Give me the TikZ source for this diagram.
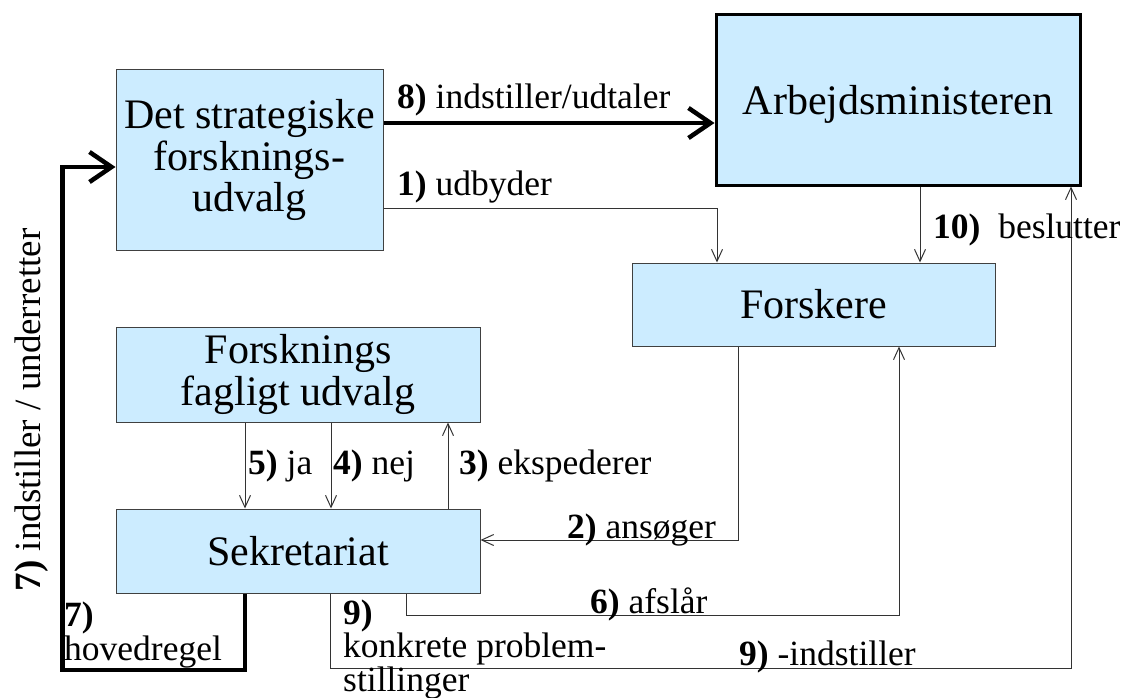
\documentclass[tikz,border=0pt]{standalone}
\usepackage{fontspec}
\setmainfont{Liberation Serif}
\usepackage{tikz}
\usetikzlibrary{arrows.meta}
\definecolor{boxblue}{RGB}{204,236,255}
\newcommand{\boxfont}{\fontsize{42}{41.5}\selectfont}
\newcommand{\lblfont}{\fontsize{35.5}{30}\selectfont}
\tikzstyle{box} = [rectangle, draw=black!75, line width=1pt, fill=boxblue, inner sep=0pt, text centered, align=center, font=\boxfont]
\tikzstyle{minister} = [box, draw=black, line width=3pt, text depth=0pt]
\tikzstyle{flow} = [line width=1pt, draw=black!80, -{Straight Barb[length=12pt,width=11pt]}]
\tikzstyle{bigflow} = [line width=4.5pt, -{Straight Barb[length=22pt,width=30pt]}]
\tikzstyle{lbl} = [anchor=base west, inner sep=0pt, align=left, font=\lblfont]

\begin{document}
\begin{tikzpicture}[x=1pt, y=-1pt]
    \useasboundingbox (0,0) rectangle (1122,698);

    \node (dsf) [box, minimum width=267pt, minimum height=180pt] at (249.5,160) {Det strategiske\\forsknings-\\udvalg};
    \node (arb) [minister, minimum width=364pt, minimum height=170pt] at (898,100) {Arbejdsministeren};
    \node (fors) [box, minimum width=363pt, minimum height=83pt] at (813.5,304.5) {Forskere};
    \node (ffu) [box, minimum width=364pt, minimum height=95pt] at (298,374.5) {Forsknings\\fagligt udvalg};
    \node (sek) [box, minimum width=364pt, minimum height=84pt] at (298,551) {Sekretariat};

    \coordinate (turn9) at (1071,668);
    \coordinate (turn6) at (899,615);
    \coordinate (turn7) at (62.5,670);

    \draw [bigflow] ([yshift=37pt]dsf.east) -- ([yshift=37pt]dsf.east -| arb.west);
    \draw [flow] ([yshift=-48pt]dsf.east) -| ([xshift=-96.5pt]fors.north);
    \draw [flow] ([xshift=22pt]arb.south) -- ([xshift=22pt]arb.south |- fors.north);
    \draw [flow] ([xshift=-75.5pt]fors.south) |- ([yshift=11pt]sek.east);
    \draw [flow] ([xshift=150pt]sek.north) -- ([xshift=150pt]sek.north |- ffu.south);
    \draw [flow] ([xshift=-53pt]ffu.south) -- ([xshift=-53pt]ffu.south |- sek.north);
    \draw [flow] ([xshift=33pt]ffu.south) -- ([xshift=33pt]ffu.south |- sek.north);
    \draw [flow] ([xshift=108pt]sek.south) |- (turn6) -- (turn6 |- fors.south);
    \draw [flow] ([xshift=32pt]sek.south) |- (turn9) -- (turn9 |- arb.south);
    \draw [bigflow] ([xshift=-53pt]sek.south) |- (turn7) |- ([yshift=-7pt]dsf.west);

    \node (l8) [lbl] at (397,109) {\textbf{8)} indstiller/udtaler};
    \node (l1) [lbl] at (397,195) {\textbf{1)} udbyder};
    \node (l10) [lbl] at (933,238) {\textbf{10)}\ \ beslutter};
    \node (l2) [lbl] at (567,538) {\textbf{2)} ansøger};
    \node (l3) [lbl] at (459,474) {\textbf{3)} ekspederer};
    \node (l5) [lbl] at (248,474) {\textbf{5)} ja};
    \node (l4) [lbl] at (333,474) {\textbf{4)} nej};
    \node (l6) [lbl] at (590,613) {\textbf{6)} afslår};
    \node (l9b) [lbl] at (739,665) {\textbf{9)} -indstiller};
    \node (l9a) [lbl] at (343,691) {\textbf{9)}\\konkrete problem-\\stillinger};
    \node (l7b) [lbl] at (64,660) {\textbf{7)}\\hovedregel};
    \node (l7a) [lbl, rotate=90, anchor=base, font=\fontsize{37}{37}\selectfont] at (40,410) {\textbf{7)} indstiller / underretter};
\end{tikzpicture}
\end{document}
